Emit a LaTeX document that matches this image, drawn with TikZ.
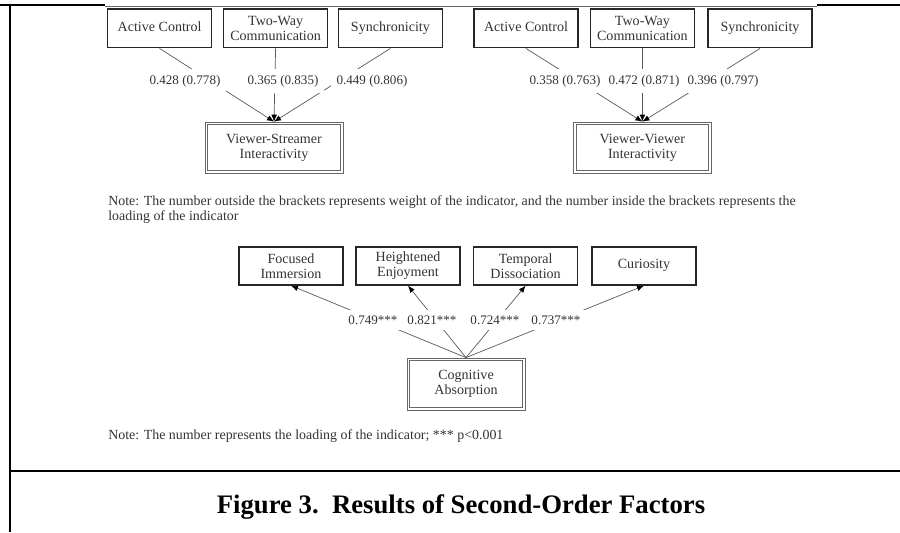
\documentclass[tikz,border=0pt]{standalone}
\usepackage{fontspec}
\setmainfont{Liberation Serif}
\usetikzlibrary{positioning,arrows.meta}

\begin{document}
\begin{tikzpicture}[
    indicator/.style={draw=black!85, line width=0.9pt, minimum width=2.6cm, minimum height=0.97cm,
        inner sep=2pt, align=center, text=black!80, font=\fontsize{10}{10.8}\selectfont},
    factor/.style={draw=black!60, line width=0.6pt, minimum width=3.45cm, minimum height=1.275cm,
        align=center, text=black!80, font=\fontsize{10}{10.8}\selectfont},
    inner_line/.style={draw=black!60, line width=0.6pt},
    weight/.style={fill=white, inner sep=4pt, text=black!80, font=\fontsize{9.3}{10}\selectfont},
    link/.style={-{Latex[length=5pt,width=4pt,black]}, black!65, line width=0.5pt},
    note/.style={anchor=base west, align=left, inner sep=0pt, text=black!80,
        font=\fontsize{9.9}{10.7}\selectfont},
    rule/.style={line width=2pt}
]
    \useasboundingbox (0,0) rectangle (22.5,-13.3);
    % Rahmen
    \draw[rule] (0,-0.125) -- (2.625,-0.125);
    \draw[black!60, line width=0.6pt] (2.625,-0.15) -- (20.425,-0.15);
    \draw[rule] (20.425,-0.125) -- (22.5,-0.125);
    \draw[rule] (0.25,-0.125) -- (0.25,-13.3);
    \draw[rule] (0.25,-11.775) -- (22.5,-11.775);

    % Viewer-Streamer
    \node[indicator] (ac1) at (3.99,-0.71) {\raisebox{2.5pt}{Active Control}};
    \node[indicator] (tw1) at (6.89,-0.71) {Two-Way\\Communication};
    \node[indicator] (sy1) at (9.76,-0.71) {\raisebox{2.5pt}{Synchronicity}};
    \node[factor] (vs) at (6.85,-3.69) {Viewer-Streamer\\Interactivity};
    \draw[link] (ac1.south) -- (vs.north);
    \draw[link] (tw1.south) -- (vs.north);
    \draw[link] (sy1.south) -- (vs.north);
    \node[weight] (w11) at (4.625,-2.025) {0.428 (0.778)};
    \node[weight] (w12) at (7.075,-2.025) {0.365 (0.835)};
    \node[weight] (w13) at (9.3,-2.025) {0.449 (0.806)};

    % Viewer-Viewer
    \node[indicator] (ac2) at (13.15,-0.71) {\raisebox{2.5pt}{Active Control}};
    \node[indicator] (tw2) at (16.06,-0.71) {Two-Way\\Communication};
    \node[indicator] (sy2) at (19.0,-0.71) {\raisebox{2.5pt}{Synchronicity}};
    \node[factor] (vv) at (16.06,-3.69) {Viewer-Viewer\\Interactivity};
    \draw[link] (ac2.south) -- (vv.north);
    \draw[link] (tw2.south) -- (vv.north);
    \draw[link] (sy2.south) -- (vv.north);
    \node[weight] (w21) at (14.125,-2.025) {0.358 (0.763)};
    \node[weight] (w22) at (16.1,-2.025) {0.472 (0.871)};
    \node[weight] (w23) at (18.075,-2.025) {0.396 (0.797)};

    \node[note] (note1) at (2.7,-5.51) {Note: The number outside the brackets represents weight of the indicator, and the number inside the brackets represents the\\loading of the indicator};

    % Cognitive Absorption
    \node[indicator, minimum height=0.95cm] (fi) at (7.275,-6.65) {Focused\\Immersion};
    \node[indicator, minimum height=0.95cm] (he) at (10.2,-6.65) {Heightened\\Enjoyment};
    \node[indicator, minimum height=0.95cm] (td) at (13.14,-6.65) {Temporal\\Dissociation};
    \node[indicator, minimum height=0.95cm] (cu) at (16.1,-6.65) {\raisebox{2.5pt}{Curiosity}};
    \node[factor, minimum width=2.95cm, minimum height=1.3cm] (ca) at (11.65,-9.6) {Cognitive\\Absorption};
    \draw[link] (ca.north) -- (fi.south);
    \draw[link] (ca.north) -- (he.south);
    \draw[link] (ca.north) -- (td.south);
    \draw[link] (ca.north) -- (cu.south);
    \node[weight] (l1) at (9.325,-8.0) {0.749***};
    \node[weight] (l2) at (10.8,-8.0) {0.821***};
    \node[weight] (l3) at (12.375,-8.0) {0.724***};
    \node[weight] (l4) at (13.9,-8.0) {0.737***};

    % innere Linie der Doppelrahmen
    \foreach \f in {vs, vv, ca}
        \draw[inner_line] ([shift={(2.3pt,-2.3pt)}]\f.north west) rectangle ([shift={(-2.3pt,2.3pt)}]\f.south east);

    \node[note] (note2) at (2.7,-10.99) {Note: The number represents the loading of the indicator; *** p<0.001};

    \node[font=\fontsize{19}{20}\selectfont\bfseries] (cap) at (11.525,-12.675) {Figure 3.~~Results of Second-Order Factors};
\end{tikzpicture}
\end{document}
